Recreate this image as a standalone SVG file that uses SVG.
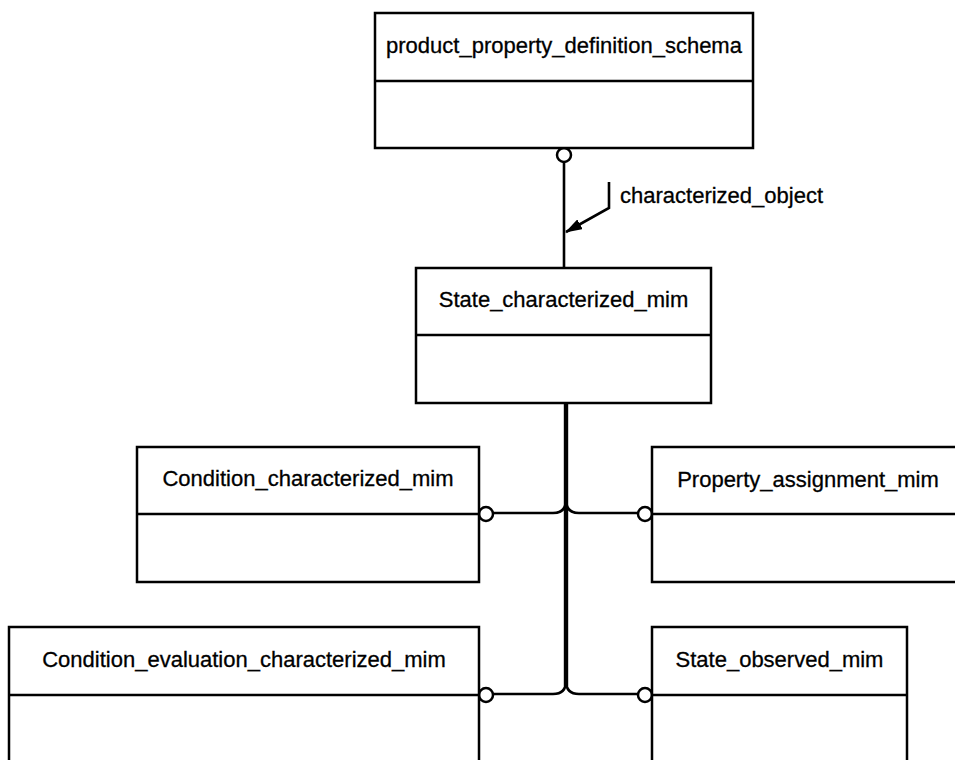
<svg xmlns="http://www.w3.org/2000/svg" width="955" height="760" viewBox="0 0 955 760">
<style>
.box{fill:#fff;stroke:#000;stroke-width:2.5}
.div{stroke:#000;stroke-width:2.5}
.lbl{font-family:"Liberation Sans",Arial,sans-serif;font-size:22px;fill:#000;stroke:#000;stroke-width:0.3}
.mid{text-anchor:middle}
.ln{fill:none;stroke:#000;stroke-width:2.6}
.trunk{fill:none;stroke:#000;stroke-width:4.4}
.circ{fill:#fff;stroke:#000;stroke-width:2.5}
</style>
<defs>
<marker id="arr" markerWidth="17" markerHeight="11" refX="16" refY="5.5" orient="auto" markerUnits="userSpaceOnUse">
<path d="M0,0 L17,5.5 L0,11 Z" fill="#000"/>
</marker>
</defs>
<rect width="955" height="760" fill="#fff"/>
<g id="connectors">
<line class="ln" x1="564" y1="162" x2="564" y2="268"/>
<path class="ln" d="M609,182 V208 L566,232" marker-end="url(#arr)"/>
<path class="trunk" d="M566,403 V686"/>
<path class="ln" d="M493,513 H553 Q566,513 566,500"/>
<path class="ln" d="M638,513 H579 Q566,513 566,500"/>
<path class="ln" d="M493,694 H553 Q566,694 566,681"/>
<path class="ln" d="M638,694 H579 Q566,694 566,681"/>
<circle class="circ" cx="564" cy="155" r="7"/>
<circle class="circ" cx="486" cy="514" r="7"/>
<circle class="circ" cx="645" cy="514" r="7"/>
<circle class="circ" cx="486" cy="695" r="7"/>
<circle class="circ" cx="645" cy="695" r="7"/>
<text class="lbl" x="620" y="203">characterized_object</text>
</g>
<g id="product_property_definition_schema">
<rect class="box" x="375" y="13" width="378" height="135"/>
<line class="div" x1="375" y1="81" x2="753" y2="81"/>
<text class="lbl mid" x="564" y="53">product_property_definition_schema</text>
</g>
<g id="State_characterized_mim">
<rect class="box" x="416" y="268" width="295" height="135"/>
<line class="div" x1="416" y1="335" x2="711" y2="335"/>
<text class="lbl mid" x="563.5" y="307">State_characterized_mim</text>
</g>
<g id="Condition_characterized_mim">
<rect class="box" x="137" y="447" width="342" height="135"/>
<line class="div" x1="137" y1="514" x2="479" y2="514"/>
<text class="lbl mid" x="308" y="486">Condition_characterized_mim</text>
</g>
<g id="Property_assignment_mim">
<rect class="box" x="652" y="447" width="320" height="135"/>
<line class="div" x1="652" y1="514" x2="972" y2="514"/>
<text class="lbl mid" x="808" y="487">Property_assignment_mim</text>
</g>
<g id="Condition_evaluation_characterized_mim">
<rect class="box" x="9" y="627" width="470" height="150"/>
<line class="div" x1="9" y1="695" x2="479" y2="695"/>
<text class="lbl mid" x="244" y="667">Condition_evaluation_characterized_mim</text>
</g>
<g id="State_observed_mim">
<rect class="box" x="652" y="627" width="255" height="150"/>
<line class="div" x1="652" y1="695" x2="907" y2="695"/>
<text class="lbl mid" x="779.5" y="667">State_observed_mim</text>
</g>
</svg>
